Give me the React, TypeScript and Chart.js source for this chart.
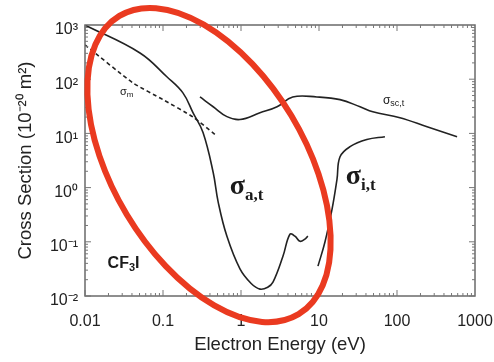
import React, { useEffect, useRef } from "react";
import { Chart, registerables } from "chart.js";

Chart.register(...registerables);

// Tick values
const xTicks = [0.01, 0.1, 1, 10, 100, 1000];
const xTickLabels = ["0.01", "0.1", "1", "10", "100", "1000"];
const yTicks = [0.01, 0.1, 1, 10, 100, 1000];
const yTickLabels = ["10⁻²", "10⁻¹", "10⁰", "10¹", "10²", "10³"];

// σ_a,t (attachment)
const sigmaAT_E = [0.01, 0.0507, 0.112, 0.18, 0.243, 0.326, 0.44, 0.51, 0.66, 0.97, 1.35, 1.75, 2.2, 2.57, 3.45, 4.24, 4.92, 5.7, 6.6, 7.2];
const sigmaAT_V = [1000, 305, 111, 56, 24, 10.4, 1.9, 0.54, 0.126, 0.0316, 0.017, 0.0134, 0.0145, 0.018, 0.054, 0.138, 0.127, 0.102, 0.112, 0.127];

// σ_m (momentum transfer, dashed)
const sigmaM_E = [0.01, 0.041, 0.1, 0.243, 0.465];
const sigmaM_V = [429, 86, 42, 20, 9.5];

// σ_sc,t (total scattering)
const sigmaSC_E = [0.298, 0.44, 0.66, 0.97, 1.75, 2.9, 4.6, 9.4, 18.6, 33.6, 49, 109, 243, 589];
const sigmaSC_V = [47, 31, 20.4, 18, 24, 31, 47, 47, 42, 31, 25, 19.5, 13.3, 8.7];

// σ_i,t (ionization)
const sigmaI_E = [9.7, 11.9, 14.7, 17, 18.6, 25, 41, 70];
const sigmaI_V = [0.0356, 0.098, 0.4, 1.42, 3.7, 5.7, 7.7, 8.7];

const toPts = (xs: number[], ys: number[]) => xs.map((x, i) => ({ x, y: ys[i] }));

const SANS = "'Liberation Sans', Arial, Helvetica, sans-serif";
const SERIF = "'Liberation Serif', 'Times New Roman', serif";

const decoPlugin = {
  id: "deco",
  afterDatasetsDraw(chart: any) {
    const { ctx, chartArea: a, scales } = chart;
    const xs = scales.x;
    const ys = scales.y;
    ctx.save();
    // frame
    ctx.strokeStyle = "#6a6a6a";
    ctx.lineWidth = 1.5;
    ctx.strokeRect(a.left, a.top, a.right - a.left, a.bottom - a.top);
    // inward ticks
    ctx.lineWidth = 1;
    ctx.strokeStyle = "#777";
    const decades = [0.01, 0.1, 1, 10, 100];
    ctx.beginPath();
    for (const d of decades) {
      for (let m = 1; m <= 9; m++) {
        const v = d * m;
        const len = m === 1 ? 6 : 3;
        const px = xs.getPixelForValue(v);
        ctx.moveTo(px, a.bottom);
        ctx.lineTo(px, a.bottom - len);
        ctx.moveTo(px, a.top);
        ctx.lineTo(px, a.top + len);
        const py = ys.getPixelForValue(v);
        ctx.moveTo(a.left, py);
        ctx.lineTo(a.left + len, py);
        ctx.moveTo(a.right, py);
        ctx.lineTo(a.right - len, py);
      }
    }
    ctx.stroke();

    // labels
    ctx.fillStyle = "#1a1a1a";
    ctx.textBaseline = "middle";
    ctx.textAlign = "left";
    const lab = (xv: number, yv: number, main: string, sub: string, mf: string, sf: string, dy: number) => {
      const px = xs.getPixelForValue(xv);
      const py = ys.getPixelForValue(yv);
      ctx.font = mf;
      ctx.fillText(main, px, py);
      const w = ctx.measureText(main).width;
      ctx.font = sf;
      ctx.fillText(sub, px + w, py + dy);
    };
    lab(0.028, 59, "σ", "m", `11px ${SANS}`, `8px ${SANS}`, 3);
    lab(66, 40, "σ", "sc,t", `12px ${SANS}`, `9px ${SANS}`, 3);
    lab(0.72, 1.05, "σ", "a,t", `bold 28px ${SERIF}`, `bold 17px ${SERIF}`, 9);
    lab(22, 1.6, "σ", "i,t", `bold 28px ${SERIF}`, `bold 17px ${SERIF}`, 9);
    // CF3I
    {
      const px = xs.getPixelForValue(0.0195);
      const py = ys.getPixelForValue(0.04);
      ctx.font = `bold 16px ${SANS}`;
      ctx.fillText("CF", px, py);
      let w = ctx.measureText("CF").width;
      ctx.font = `bold 11px ${SANS}`;
      ctx.fillText("3", px + w, py + 5);
      w += ctx.measureText("3").width;
      ctx.font = `bold 16px ${SANS}`;
      ctx.fillText("I", px + w, py);
    }

    // red ellipse annotation
    const cx = xs.getPixelForValue(0.389);
    const cy = ys.getPixelForValue(2.61);
    ctx.beginPath();
    ctx.ellipse(cx, cy, 174, 96, (59 * Math.PI) / 180, 0, Math.PI * 2);
    ctx.strokeStyle = "#ea3a20";
    ctx.lineWidth = 6;
    ctx.stroke();
    ctx.restore();
  },
};

export default function App() {
  const ref = useRef<HTMLCanvasElement | null>(null);
  useEffect(() => {
    if (!ref.current) return;
    const lineBase = {
      borderColor: "#222",
      borderWidth: 1.6,
      pointRadius: 0,
      fill: false,
      tension: 0.4,
    };
    const chart = new Chart(ref.current, {
      type: "line",
      data: {
        datasets: [
          { ...lineBase, label: "σa,t", data: toPts(sigmaAT_E, sigmaAT_V) },
          { ...lineBase, label: "σm", data: toPts(sigmaM_E, sigmaM_V), borderDash: [4, 3], tension: 0.2 },
          { ...lineBase, label: "σsc,t", data: toPts(sigmaSC_E, sigmaSC_V) },
          { ...lineBase, label: "σi,t", data: toPts(sigmaI_E, sigmaI_V) },
        ],
      },
      options: {
        animation: false,
        responsive: false,
        events: [],
        layout: { padding: { left: 0, right: 19, top: 25, bottom: 0 } },
        plugins: { legend: { display: false }, tooltip: { enabled: false } },
        scales: {
          x: {
            type: "logarithmic",
            min: 0.01,
            max: 1000,
            grid: { display: false, drawTicks: false, tickLength: 0 },
            border: { display: false },
            afterBuildTicks: (s: any) => {
              s.ticks = xTicks.map((v) => ({ value: v }));
            },
            afterFit: (s: any) => {
              s.height = 66;
              s.paddingLeft = 0;
              s.paddingRight = 0;
            },
            ticks: {
              autoSkip: false,
              maxRotation: 0,
              padding: 16,
              color: "#222",
              font: { family: SANS, size: 16 },
              callback: (v: any) => {
                const i = xTicks.indexOf(Number(v));
                return i >= 0 ? xTickLabels[i] : "";
              },
            },
            title: {
              display: true,
              text: "Electron Energy (eV)",
              color: "#222",
              font: { family: SANS, size: 18.5 },
              padding: { top: 0, bottom: 6 },
            },
          },
          y: {
            type: "logarithmic",
            min: 0.01,
            max: 1000,
            grid: { display: false, drawTicks: false, tickLength: 0 },
            border: { display: false },
            afterBuildTicks: (s: any) => {
              s.ticks = yTicks.map((v) => ({ value: v }));
            },
            afterFit: (s: any) => {
              s.width = 85;
              s.paddingTop = 0;
              s.paddingBottom = 0;
            },
            ticks: {
              autoSkip: false,
              padding: 7,
              labelOffset: 5,
              color: "#222",
              font: { family: SANS, size: 16 },
              callback: (v: any) => {
                const i = yTicks.indexOf(Number(v));
                return i >= 0 ? yTickLabels[i] : "";
              },
            },
            title: {
              display: true,
              text: "Cross Section (10⁻²⁰ m²)",
              color: "#222",
              font: { family: SANS, size: 18.5 },
              padding: { top: 15, bottom: 0 },
            },
          },
        },
      },
      plugins: [decoPlugin],
    } as any);
    return () => chart.destroy();
  }, []);
  return (
    <div style={{ position: "fixed", left: 0, top: 0, width: 494, height: 362, background: "#fff" }}>
      <canvas ref={ref} width={494} height={362} style={{ display: "block" }} />
    </div>
  );
}
